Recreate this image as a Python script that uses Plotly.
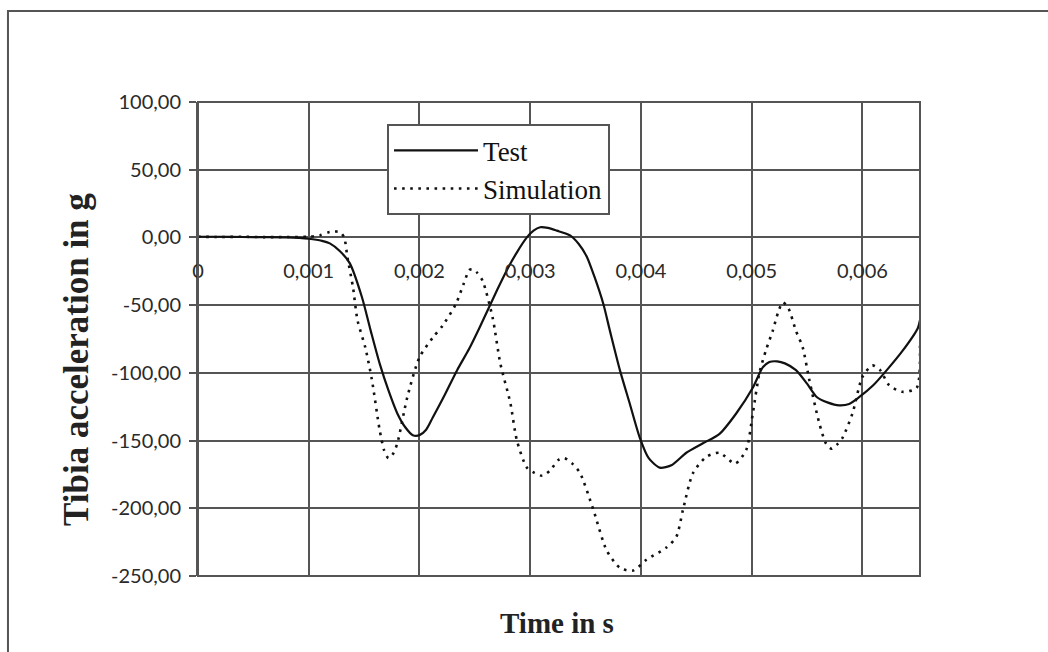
import plotly.graph_objects as go

# Tibia acceleration (g) over time (s): test measurement
test_t = [0, 0.0002, 0.0004, 0.0006, 0.0008, 0.0010, 0.00112, 0.00119, 0.00128, 0.00137,
          0.00148, 0.00156, 0.00164, 0.00172, 0.0018, 0.00187, 0.00194, 0.00200, 0.00206,
          0.00212, 0.00223, 0.00234, 0.00245, 0.00254, 0.00262, 0.0027, 0.00279, 0.00288,
          0.00297, 0.00303, 0.00309, 0.00316, 0.00324, 0.00336, 0.00344, 0.00351, 0.00358,
          0.00366, 0.00372, 0.00381, 0.0039, 0.00399, 0.00407, 0.00417, 0.00428, 0.00441,
          0.00456, 0.00471, 0.00486, 0.00501, 0.0051, 0.00516, 0.00523, 0.0053, 0.0054,
          0.0055, 0.00559, 0.00569, 0.00579, 0.00588, 0.00597, 0.0061, 0.00622, 0.00636,
          0.0065, 0.00652]
test_g = [0.5, 0.5, 0.3, 0.2, 0, -1, -2.5, -4.4, -10, -19,
          -44, -69, -93, -113, -130, -140, -146, -146, -142,
          -133, -116, -98, -82, -67, -53, -39, -24, -11,
          0, 5, 7.5, 7, 5, 1.5, -5, -14, -29,
          -49, -69, -98, -123, -148, -163, -170, -168, -159,
          -152, -145, -130, -111, -96, -92, -91.5, -93, -98,
          -108, -118, -122, -124, -123, -118, -109, -98, -84,
          -67, -61]

# Simulation result
sim_t = [0, 0.0002, 0.0004, 0.0006, 0.0008, 0.001, 0.0011, 0.00119, 0.00128, 0.00132,
         0.00135, 0.0014, 0.00144, 0.00151, 0.00157, 0.00164, 0.00168, 0.00172, 0.00176,
         0.0018, 0.00189, 0.002, 0.00212, 0.00221, 0.00233, 0.0024, 0.00245, 0.00248,
         0.00252, 0.00257, 0.00266, 0.00273, 0.00282, 0.00288, 0.00297, 0.00304, 0.00311,
         0.00318, 0.00326, 0.00331, 0.00338, 0.00345, 0.00357, 0.00369, 0.00381, 0.00393,
         0.00405, 0.00423, 0.00432, 0.00438, 0.00447, 0.00459, 0.00471, 0.00485, 0.00495,
         0.00501, 0.00507, 0.00513, 0.00519, 0.00524, 0.00528, 0.00533, 0.0054, 0.00546,
         0.00552, 0.00561, 0.00567, 0.00572, 0.00577, 0.00582, 0.00591, 0.006, 0.00609,
         0.00616, 0.00624, 0.00636, 0.00649, 0.00652]
sim_g = [0.5, 0.3, 0.5, 0.2, 0.3, 0.5, 1.5, 4, 4, 0,
         -15, -37, -61, -81, -105, -142, -157, -163, -160,
         -152, -118, -88.5, -74, -65, -49, -34, -24, -23.5,
         -26, -32, -59, -93, -122, -150, -170, -174, -176,
         -172, -164, -163, -167, -174, -201, -231, -244, -246,
         -238, -229, -221, -201, -174, -162, -159, -167, -157,
         -130, -100, -83, -69, -55, -48, -52, -69, -81,
         -105, -137, -152, -156, -153, -148, -130, -103, -94.5,
         -98, -109, -114, -111, -80]

x_tick_vals = [0, 0.001, 0.002, 0.003, 0.004, 0.005, 0.006]
x_tick_text = ["0", "0,001", "0,002", "0,003", "0,004", "0,005", "0,006"]
y_tick_vals = [100, 50, 0, -50, -100, -150, -200, -250]
y_tick_text = ["100,00", "50,00", "0,00", "-50,00", "-100,00", "-150,00", "-200,00", "-250,00"]

GRID = "#555555"
INK = "#111111"
SERIF = "Liberation Serif, Times New Roman, serif"
TICKFONT = dict(family="Lato, sans-serif", size=20, color="#2a2a2a")

fig = go.Figure()
fig.add_trace(go.Scatter(
    x=test_t, y=test_g, mode="lines", name="Test",
    line=dict(color=INK, width=2.2, shape="spline", smoothing=0.7),
))
fig.add_trace(go.Scatter(
    x=sim_t, y=sim_g, mode="lines", name="Simulation",
    line=dict(color=INK, width=2.6, dash="2.6px,5.5px", shape="spline", smoothing=0.7),
))

# Plot-area frame
fig.add_shape(type="rect", xref="x domain", yref="y domain", x0=0, x1=1, y0=0, y1=1,
              line=dict(color=GRID, width=2), layer="above")
# Outer figure frame
fig.add_shape(type="rect", xref="paper", yref="paper", x0=-0.2632, x1=1.2, y0=-0.2, y1=1.192,
              line=dict(color=GRID, width=2))

fig.update_layout(
    width=1048, height=652,
    margin=dict(l=198, r=128, t=102, b=76),
    paper_bgcolor="white", plot_bgcolor="white",
    showlegend=True,
    legend=dict(
        x=0.2618, y=0.953, xanchor="left", yanchor="top",
        bgcolor="white", bordercolor=GRID, borderwidth=2,
        font=dict(family=SERIF, size=27, color=INK),
        itemwidth=84, tracegroupgap=0,
    ),
    xaxis=dict(
        range=[0, 0.00652], tickvals=x_tick_vals, ticktext=x_tick_text,
        anchor="free", position=250 / 350,
        showgrid=True, gridcolor=GRID, gridwidth=2,
        zeroline=False, showline=False, ticks="",
        tickfont=TICKFONT, ticklabelstandoff=20,
    ),
    yaxis=dict(
        range=[-250, 100], tickvals=y_tick_vals, ticktext=y_tick_text,
        showgrid=True, gridcolor=GRID, gridwidth=2,
        zeroline=False, showline=True, linecolor=GRID, linewidth=2,
        ticks="outside", ticklen=7, tickcolor=GRID, tickwidth=2,
        tickfont=TICKFONT, ticklabelstandoff=4,
    ),
    annotations=[
        dict(text="<b>Tibia acceleration in g</b>", xref="paper", yref="paper",
             x=-0.1690, y=0.4578, xanchor="center", yanchor="middle",
             textangle=-90, showarrow=False,
             font=dict(family=SERIF, size=35, color="#222222")),
        dict(text="<b>Time in s</b>", xref="paper", yref="paper",
             x=0.497, y=-0.0992, xanchor="center", yanchor="middle", showarrow=False,
             font=dict(family=SERIF, size=29, color="#222222")),
    ],
)

fig.write_html("out.html")
